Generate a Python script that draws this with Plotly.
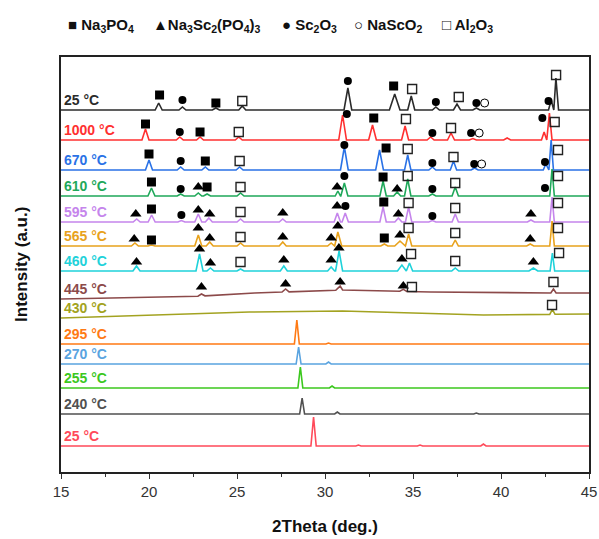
import numpy as np
import plotly.graph_objects as go

# ---------------- data ----------------
x_range = [15, 45]
x_ticks = [15, 20, 25, 30, 35, 40, 45]

labels = ["25 °C", "1000 °C", "670 °C", "610 °C", "595 °C", "565 °C", "460 °C",
          "445 °C", "430 °C", "295 °C", "270 °C", "255 °C", "240 °C", "25 °C"]
colors = ["#2b2b2b", "#ff3030", "#2a72e6", "#1fa85a", "#c585ec", "#e8a21c", "#1fd2da",
          "#8c4a4a", "#a3a321", "#ff7a14", "#5aa4e0", "#3cc81e", "#505050", "#ff4a5a"]

# background knots (2theta, intensity) for each pattern
backgrounds = [
    [(15, 362), (45, 362)],
    [(15, 332), (45, 332)],
    [(15, 302), (45, 302)],
    [(15, 276), (45, 276)],
    [(15, 250), (45, 250)],
    [(15, 226), (45, 226)],
    [(15, 201), (45, 201)],
    [(15, 173), (22, 175), (26, 179), (31, 182), (36, 180), (40, 179), (45, 179)],
    [(15, 154), (20, 157), (25.7, 160), (31, 161), (35, 159), (39, 157), (45, 158)],
    [(15, 128), (45, 128)],
    [(15, 108), (45, 108)],
    [(15, 84), (45, 84)],
    [(15, 58), (45, 58)],
    [(15, 26), (45, 26)],
]

# peaks (position, height, half-width)
peaks = [
    [(20.55, 7, .2), (21.9, 3, .2), (23.8, 2, .2), (25.3, 4, .2), (31.3, 22, .22), (33.96, 16, .3),
     (34.9, 14, .2), (36.3, 3, .2), (37.5, 6, .2), (38.6, 2, .2), (42.85, 10, .15), (43.12, 32, .15)],
    [(19.8, 11, .2), (21.75, 3, .2), (22.9, 3, .2), (25.1, 3, .2), (31.0, 25, .22), (32.7, 15, .22),
     (34.55, 14, .2), (36.0, 3, .2), (37.16, 7, .2), (38.4, 1.5, .2), (40.35, 2, .2), (42.45, 8, .15), (42.75, 27, .15)],
    [(20.0, 10, .2), (21.8, 3, .2), (23.2, 3, .2), (25.15, 3, .2), (31.1, 23, .22), (33.1, 20, .22),
     (34.7, 15, .18), (36.1, 3, .2), (37.3, 9, .18), (38.5, 2, .2), (42.55, 6, .15), (42.85, 30, .13)],
    [(20.14, 8, .2), (21.8, 2, .2), (22.8, 3, .2), (23.3, 2, .2), (25.2, 3, .2), (30.73, 5, .15), (31.1, 13, .2),
     (33.3, 15, .18), (34.1, 4, .2), (34.7, 17, .18), (36.1, 2, .2), (37.4, 9, .18), (42.9, 27, .13)],
    [(19.3, 3, .2), (20.15, 7, .2), (21.84, 1.5, .2), (22.8, 8, .2), (23.4, 4, .2), (25.2, 3, .2), (27.6, 3, .2),
     (30.7, 9, .18), (31.15, 9, .18), (33.3, 15, .18), (34.17, 4, .2), (34.75, 15, .18), (36.1, 1.5, .2),
     (37.4, 8, .18), (41.7, 2, .2), (42.9, 25, .13)],
    [(19.2, 3, .2), (20.14, 1, .2), (22.8, 11, .2), (23.45, 4, .2), (25.2, 3, .2), (27.6, 4, .2), (30.35, 3, .2),
     (30.73, 14, .22), (33.37, 2, .2), (34.26, 5, .3), (34.75, 12, .18), (37.4, 6, .18), (41.66, 2, .2), (42.9, 25, .13)],
    [(19.29, 5, .2), (22.87, 17, .2), (23.49, 3, .2), (25.2, 2, .2), (27.66, 5, .2), (30.35, 4, .2),
     (30.8, 20, .2), (34.37, 6, .25), (34.8, 8, .18), (37.4, 3, .2), (41.84, 3, .25), (42.92, 18, .13)],
    [(22.98, 2, .2), (27.76, 3, .2), (30.86, 4, .25), (34.45, 2, .2), (42.98, 4, .15)],
    [(42.92, 5, .15)],
    [(28.4, 24, .14), (30.2, 1, .15)],
    [(28.5, 17, .14), (30.2, 2, .15)],
    [(28.6, 21, .14), (30.4, 2, .15)],
    [(28.7, 16, .14), (30.7, 2, .15), (38.6, 1, .15)],
    [(29.35, 29, .15), (31.9, 1, .15), (35.4, 1, .15), (39.0, 2, .15)],
]

# phase markers: 2theta and intensity positions
na3po4_x = [20.6, 23.8, 33.9, 19.8, 22.9, 32.77, 20.0, 23.2, 33.47, 20.14, 23.3, 33.3, 20.14, 33.34, 20.14, 33.37]
na3po4_y = [377, 369, 386, 348, 340, 354, 318, 311, 324, 290, 285, 295, 263, 270, 232, 234]

nasc_x = [22.8, 30.69, 34.1,
          19.25, 22.8, 23.45, 27.6, 30.69, 34.17, 41.7,
          19.16, 22.8, 23.45, 27.6, 30.35, 30.73, 34.26, 41.66,
          19.29, 22.87, 23.49, 27.66, 30.35, 30.79, 34.37, 41.84,
          22.98, 27.76, 30.86, 34.45]
nasc_y = [285, 285, 283,
          258, 262, 258, 259, 266, 258, 258,
          233, 244, 234, 235, 234, 246, 237, 233,
          210, 223, 209, 212, 212, 224, 213, 210,
          185, 188, 190, 186]

sc2o3_x = [21.9, 31.3, 36.3, 38.6, 42.7,
           21.75, 31.24, 36.1, 38.3, 42.35,
           21.8, 31.1, 36.1, 38.48, 42.5,
           21.8, 31.1, 36.1, 42.5,
           21.84, 31.16, 36.1]
sc2o3_y = [372, 391, 370, 369, 371,
           340, 358, 339, 339, 354,
           311, 327, 309, 308, 310,
           283, 296, 283, 284,
           257, 266, 256]

nasco2_x = [39.07, 38.76, 38.9]
nasco2_y = [369, 339, 308]

al2o3_x = [25.3, 34.95, 37.6, 43.13,
           25.1, 34.6, 37.16, 43.05,
           25.15, 34.7, 37.3, 43.24,
           25.2, 34.7, 37.4, 43.24,
           25.2, 34.75, 37.4, 43.24,
           25.2, 34.75, 37.4, 43.24,
           25.2, 34.89, 37.4, 43.3,
           34.94, 42.98,
           42.9]
al2o3_y = [371, 383, 375, 397,
           340, 353, 344, 350,
           311, 323, 315, 322,
           285, 296, 289, 296,
           260, 269, 264, 269,
           235, 244, 239, 244,
           210, 218, 211, 219,
           185, 190,
           167]

# ---------------- figure ----------------
FONT = "Arial, Liberation Sans, sans-serif"
fig = go.Figure()

for lab, col, bg, pk in zip(labels, colors, backgrounds, peaks):
    bx = np.array([p[0] for p in bg], float)
    by = np.array([p[1] for p in bg], float)
    xs = list(bx)
    ys = list(by)
    for pos, h, hw in pk:
        for xx, add in ((pos - hw, 0.0), (pos, h), (pos + hw, 0.0)):
            xs.append(xx)
            ys.append(float(np.interp(xx, bx, by)) + add)
    order = np.argsort(np.array(xs), kind="stable")
    xs = np.array(xs)[order]
    ys = np.array(ys)[order]
    fig.add_trace(go.Scatter(x=xs, y=ys, mode="lines", line=dict(color=col, width=1.6),
                             showlegend=False, hoverinfo="skip"))
    fig.add_annotation(x=15.0, y=by[0] + 10, xref="x", yref="y", text="<b>%s</b>" % lab,
                       showarrow=False, xanchor="left", yanchor="middle", xshift=1,
                       font=dict(family=FONT, size=14, color=col))

mk = dict(mode="markers", showlegend=False, hoverinfo="skip")
fig.add_trace(go.Scatter(x=na3po4_x, y=na3po4_y, marker=dict(symbol="square", size=9, color="black"), **mk))
fig.add_trace(go.Scatter(x=nasc_x, y=nasc_y, marker=dict(symbol="triangle-up", size=10, color="black"), **mk))
fig.add_trace(go.Scatter(x=sc2o3_x, y=sc2o3_y, marker=dict(symbol="circle", size=8, color="black"), **mk))
fig.add_trace(go.Scatter(x=nasco2_x, y=nasco2_y,
                         marker=dict(symbol="circle-open", size=8, color="black", line=dict(width=1)), **mk))
fig.add_trace(go.Scatter(x=al2o3_x, y=al2o3_y,
                         marker=dict(symbol="square-open", size=9, color="#222", line=dict(width=1.4)), **mk))

# top legend as text
legend_items = [
    (66, "■ Na<sub>3</sub>PO<sub>4</sub>"),
    (151, "▲Na<sub>3</sub>Sc<sub>2</sub>(PO<sub>4</sub>)<sub>3</sub>"),
    (280, "● Sc<sub>2</sub>O<sub>3</sub>"),
    (352, "○ NaScO<sub>2</sub>"),
    (440, "□ Al<sub>2</sub>O<sub>3</sub>"),
]
for px, txt in legend_items:
    fig.add_annotation(x=(px - 61) / 528, y=(472 - 25) / 415, xref="paper", yref="paper",
                       text="<b>%s</b>" % txt, showarrow=False, xanchor="left", yanchor="middle",
                       font=dict(family=FONT, size=15, color="#111"))

fig.add_annotation(x=-0.075, y=0.5, xref="paper", yref="paper", text="<b>Intensity (a.u.)</b>",
                   textangle=-90, showarrow=False, xanchor="center", yanchor="middle",
                   font=dict(family=FONT, size=17, color="#111"))

fig.update_layout(
    width=599, height=539,
    margin=dict(l=61, r=10, t=57, b=67),
    paper_bgcolor="white", plot_bgcolor="white",
    xaxis=dict(range=x_range, tickvals=x_ticks, ticks="outside", ticklen=5, tickwidth=1.2,
               tickcolor="#333", showgrid=False, zeroline=False, ticklabeloverflow="allow",
               automargin=False,
               showline=True, linecolor="#222", linewidth=1.5, mirror=True,
               minor=dict(dtick=2.5, ticks="outside", ticklen=3, tickcolor="#333"),
               tickfont=dict(family=FONT, size=15, color="#333"),
               title=dict(text="<b>2Theta (deg.)</b>", standoff=21,
                          font=dict(family=FONT, size=17, color="#111"))),
    yaxis=dict(range=[0, 415], showticklabels=False, ticks="", showgrid=False, zeroline=False,
               automargin=False,
               showline=True, linecolor="#222", linewidth=1.5, mirror=True),
)

fig.write_html("out.html", config={"displayModeBar": False},
               post_script="document.body.style.margin='0';document.body.style.overflow='hidden';")
